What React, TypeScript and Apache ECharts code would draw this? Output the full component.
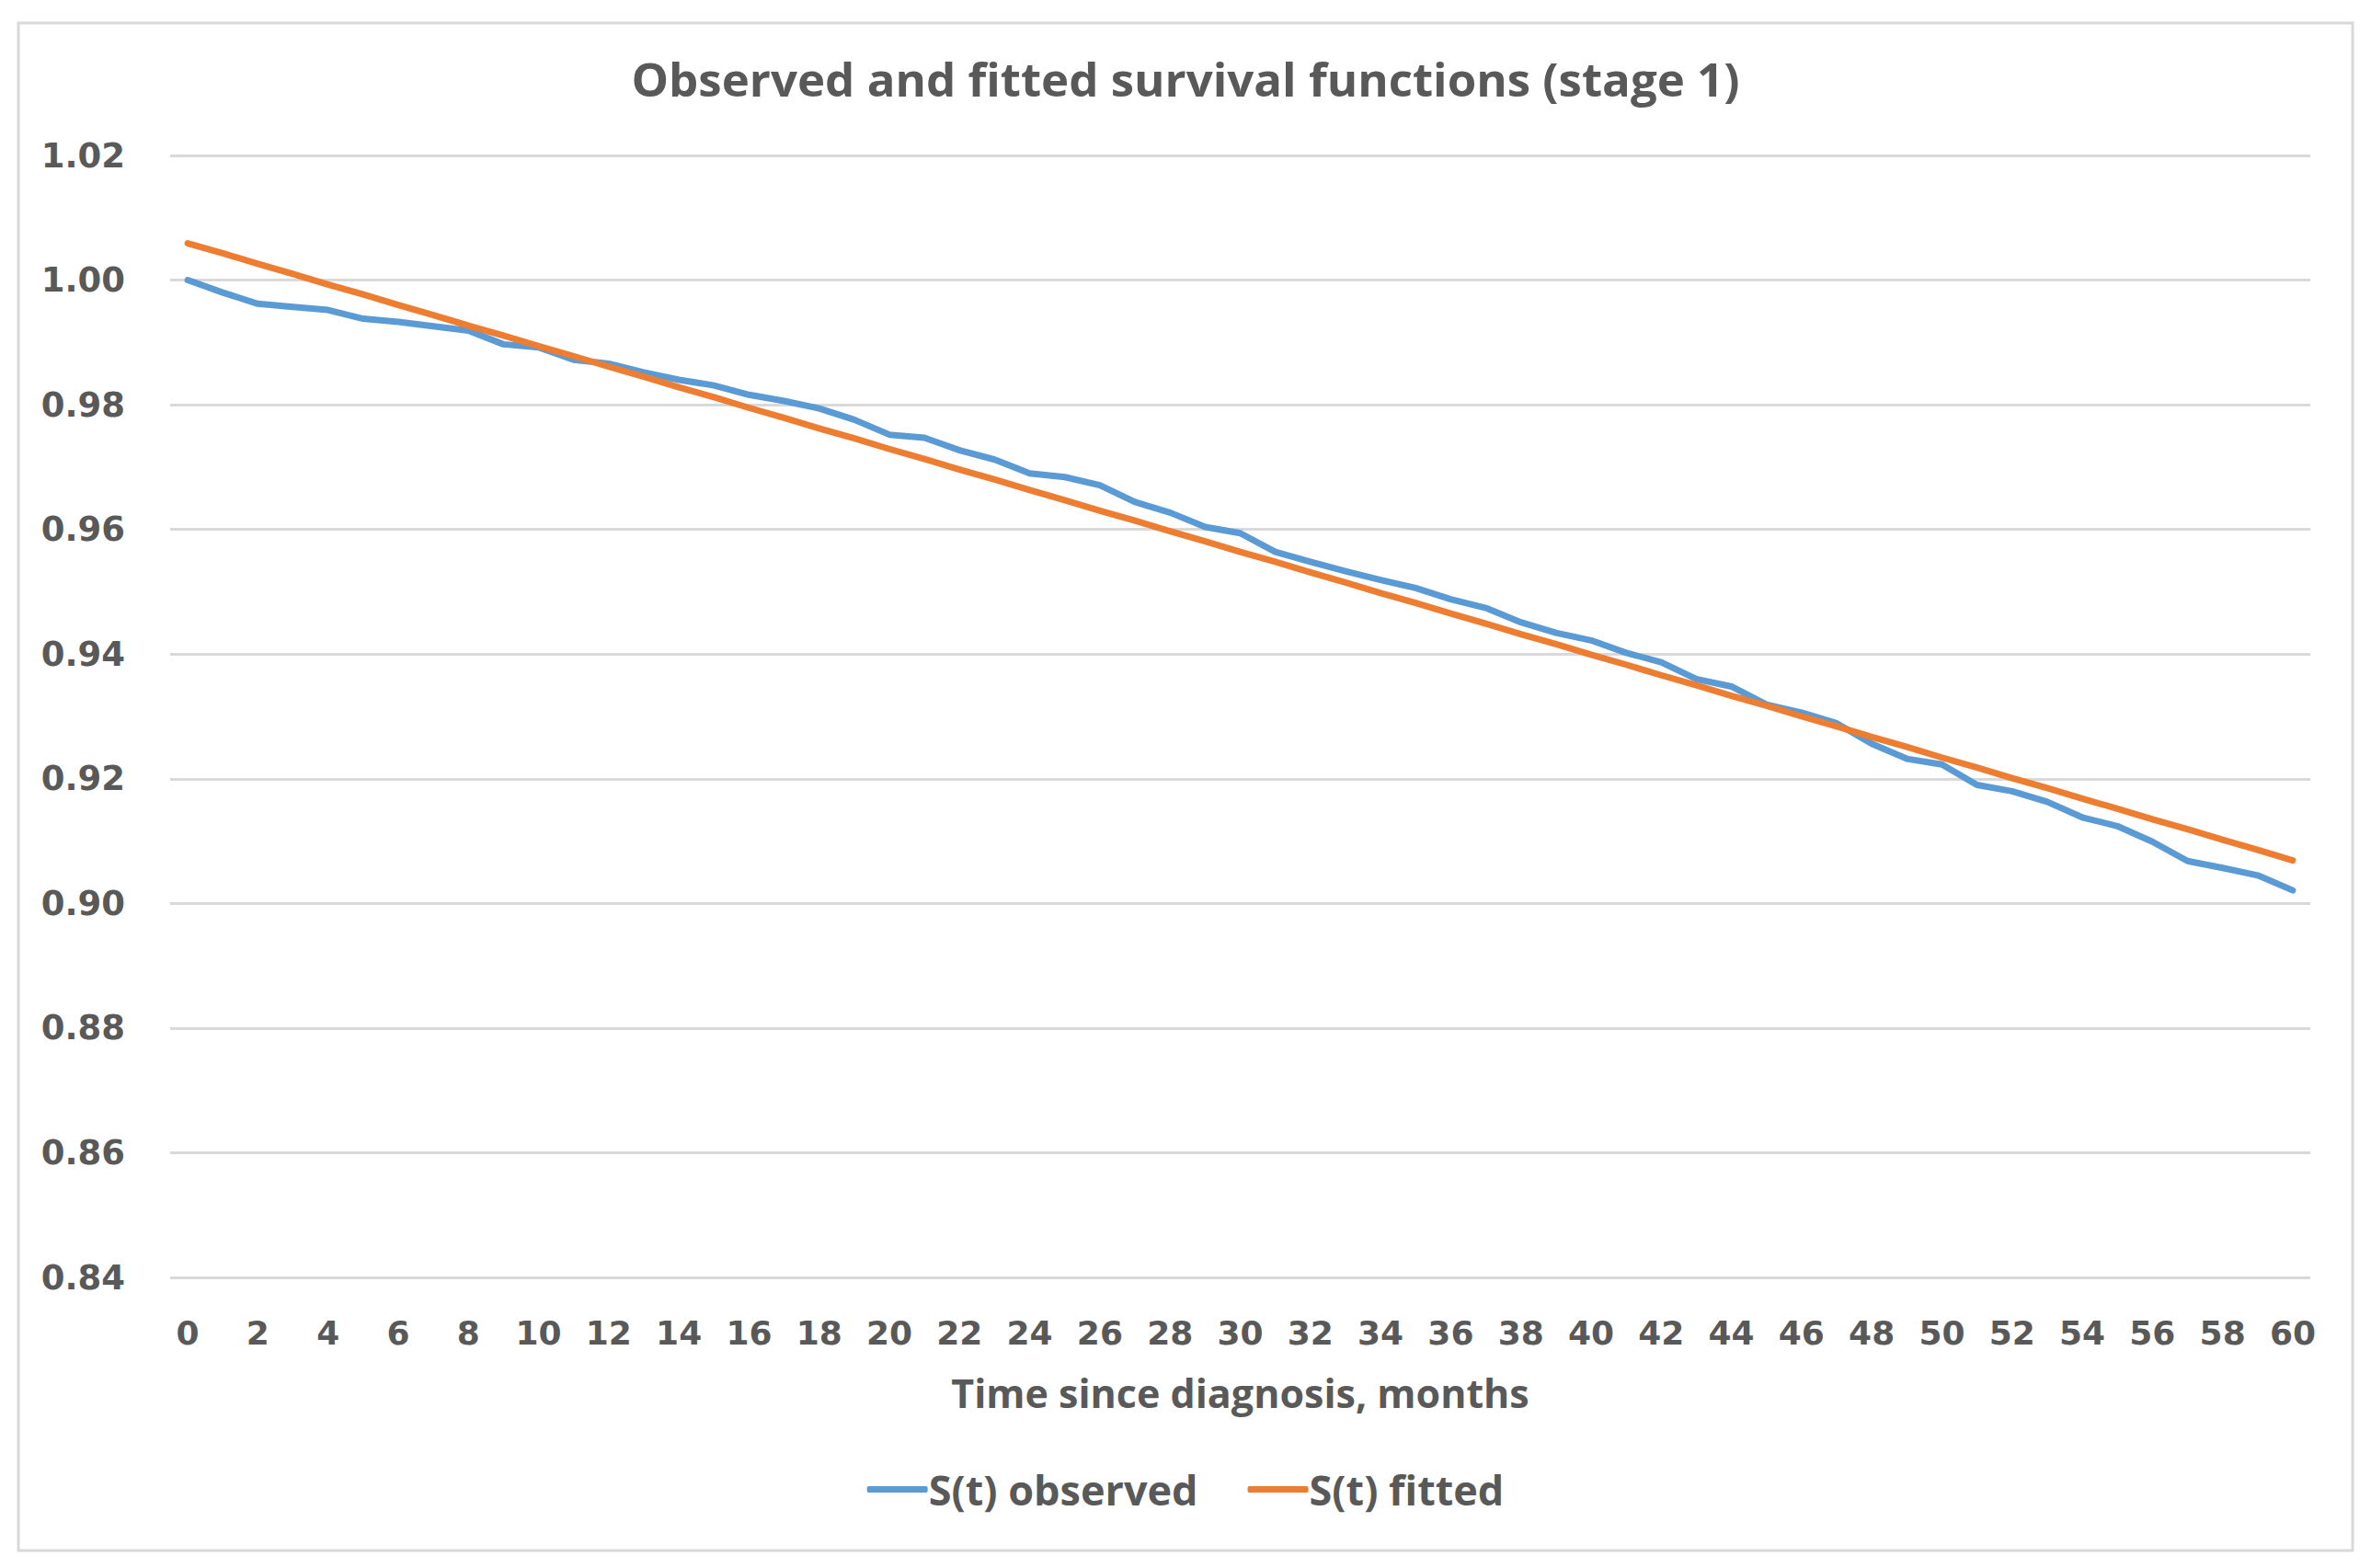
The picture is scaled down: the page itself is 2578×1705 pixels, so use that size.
import React, { useEffect, useRef } from "react";
import * as echarts from "echarts";

const months: string[] = [
  "0","1","2","3","4","5","6","7","8","9","10","11","12","13","14","15","16","17","18","19","20",
  "21","22","23","24","25","26","27","28","29","30","31","32","33","34","35","36","37","38","39","40",
  "41","42","43","44","45","46","47","48","49","50","51","52","53","54","55","56","57","58","59","60",
];

const observed: number[] = [
  1.0000, 0.9980, 0.9962, 0.9957, 0.9952, 0.9938, 0.9933, 0.9926, 0.9919, 0.9897,
  0.9892, 0.9872, 0.9866, 0.9852, 0.9840, 0.9831, 0.9816, 0.9806, 0.9794, 0.9776,
  0.9752, 0.9747, 0.9727, 0.9712, 0.9690, 0.9684, 0.9671, 0.9644, 0.9627, 0.9604,
  0.9594, 0.9564, 0.9548, 0.9533, 0.9519, 0.9506, 0.9488, 0.9474, 0.9451, 0.9434,
  0.9422, 0.9402, 0.9387, 0.9360, 0.9348, 0.9319, 0.9306, 0.9289, 0.9256, 0.9232,
  0.9223, 0.9190, 0.9180, 0.9163, 0.9138, 0.9124, 0.9099, 0.9068, 0.9057, 0.9045,
  0.9021,
];

const fitted: number[] = [
  1.0059, 1.0043, 1.0026, 1.0010, 0.9993, 0.9977, 0.9960, 0.9944, 0.9927, 0.9911,
  0.9894, 0.9878, 0.9861, 0.9845, 0.9828, 0.9812, 0.9795, 0.9779, 0.9762, 0.9746,
  0.9729, 0.9713, 0.9696, 0.9680, 0.9663, 0.9647, 0.9630, 0.9614, 0.9597, 0.9581,
  0.9564, 0.9548, 0.9531, 0.9515, 0.9498, 0.9482, 0.9465, 0.9449, 0.9432, 0.9416,
  0.9399, 0.9383, 0.9366, 0.9350, 0.9333, 0.9317, 0.9300, 0.9284, 0.9267, 0.9251,
  0.9234, 0.9218, 0.9201, 0.9185, 0.9168, 0.9152, 0.9135, 0.9119, 0.9102, 0.9086,
  0.9069,
];

const titleText = "Observed and fitted survival functions (stage 1)";
const xAxisName = "Time since diagnosis, months";
const seriesNames = ["S(t) observed", "S(t) fitted"];
const colors = ["#5B9BD5", "#ED7D31"];

const TEXT = "#595959";
const GRID = "#D9D9D9";
const LABEL_FONT = "'DejaVu Sans', sans-serif";
const TITLE_FONT = "'Open Sans', sans-serif";

export default function App() {
  const ref = useRef<HTMLDivElement>(null);
  useEffect(() => {
    if (!ref.current) return;
    const chart = echarts.init(ref.current, undefined, { renderer: "svg" });
    chart.setOption({
      animation: false,
      backgroundColor: "#FFFFFF",
      title: {
        text: titleText,
        left: "center",
        top: 46,
        textStyle: {
          color: TEXT,
          fontFamily: TITLE_FONT,
          fontWeight: "bold",
          fontSize: 51,
        },
      },
      graphic: [
        {
          type: "rect",
          shape: { x: 12, y: 17, width: 2538, height: 1661 },
          style: { fill: "none", stroke: GRID, lineWidth: 3 },
          silent: true,
        },
      ],
      legend: {
        data: seriesNames.map((n) => ({ name: n, icon: "roundRect" })),
        bottom: 50,
        left: "center",
        itemWidth: 66,
        itemHeight: 7,
        itemGap: 54,
        textStyle: {
          color: TEXT,
          fontFamily: TITLE_FONT,
          fontWeight: "bold",
          fontSize: 45,
          padding: [0, 0, 0, -4],
        },
      },
      grid: {
        left: 177,
        right: 58,
        top: 161,
        bottom: 308,
        containLabel: false,
      },
      xAxis: {
        type: "category",
        data: months,
        boundaryGap: true,
        name: xAxisName,
        nameLocation: "middle",
        nameGap: 104,
        nameTextStyle: {
          color: TEXT,
          fontFamily: TITLE_FONT,
          fontWeight: "bold",
          fontSize: 43,
        },
        axisLine: { show: false },
        axisTick: { show: false },
        axisLabel: {
          interval: 1,
          color: TEXT,
          fontFamily: LABEL_FONT,
          fontWeight: "bold",
          fontSize: 36,
          margin: 42,
        },
        splitLine: { show: false },
      },
      yAxis: {
        type: "value",
        min: 0.84,
        max: 1.02,
        interval: 0.02,
        axisLine: { show: false },
        axisTick: { show: false },
        axisLabel: {
          color: TEXT,
          fontFamily: LABEL_FONT,
          fontWeight: "bold",
          fontSize: 37,
          margin: 49,
          formatter: (v: number) => v.toFixed(2),
        },
        splitLine: { show: true, lineStyle: { color: GRID, width: 3 } },
      },
      series: [
        {
          name: seriesNames[0],
          type: "line",
          data: observed,
          symbol: "none",
          smooth: false,
          color: colors[0],
          itemStyle: { color: colors[0] },
          lineStyle: { color: colors[0], width: 7, cap: "round", join: "round" },
        },
        {
          name: seriesNames[1],
          type: "line",
          data: fitted,
          symbol: "none",
          smooth: false,
          color: colors[1],
          itemStyle: { color: colors[1] },
          lineStyle: { color: colors[1], width: 7, cap: "round", join: "round" },
        },
      ],
    });
    return () => chart.dispose();
  }, []);
  return <div ref={ref} style={{ width: 2562, height: 1689 }} />;
}
